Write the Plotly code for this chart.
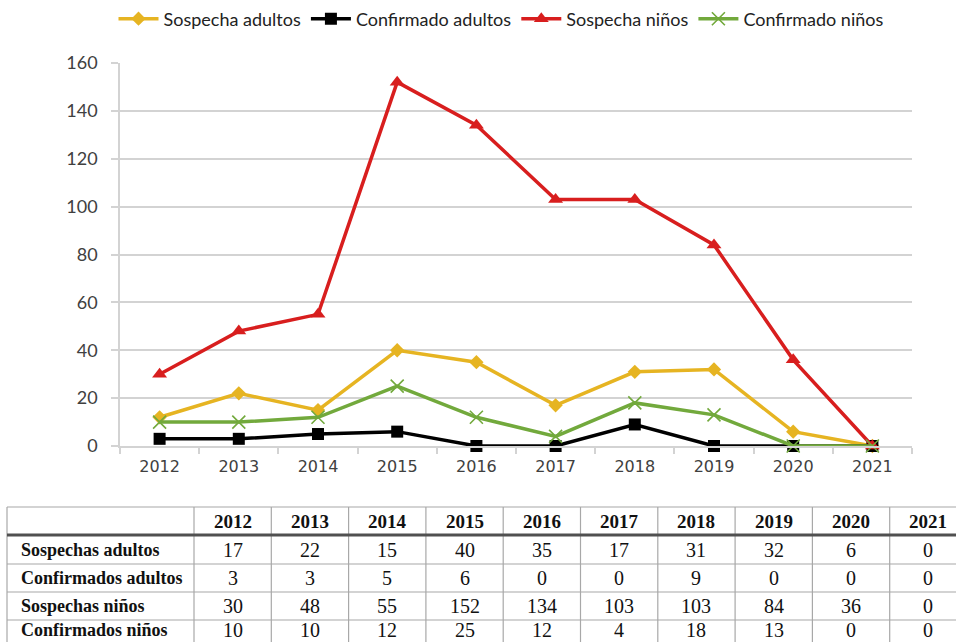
import plotly.graph_objects as go

years = ["2012", "2013", "2014", "2015", "2016", "2017", "2018", "2019", "2020", "2021"]

# values as plotted in the chart
chart_sosp_adultos = [12, 22, 15, 40, 35, 17, 31, 32, 6, 0]
chart_conf_adultos = [3, 3, 5, 6, 0, 0, 9, 0, 0, 0]
chart_sosp_ninos = [30, 48, 55, 152, 134, 103, 103, 84, 36, 0]
chart_conf_ninos = [10, 10, 12, 25, 12, 4, 18, 13, 0, 0]

# values as printed in the table
row_labels = ["Sospechas adultos", "Confirmados adultos", "Sospechas niños", "Confirmados niños"]
tbl_sosp_adultos = [17, 22, 15, 40, 35, 17, 31, 32, 6, 0]
tbl_conf_adultos = [3, 3, 5, 6, 0, 0, 9, 0, 0, 0]
tbl_sosp_ninos = [30, 48, 55, 152, 134, 103, 103, 84, 36, 0]
tbl_conf_ninos = [10, 10, 12, 25, 12, 4, 18, 13, 0, 0]

W, H = 956, 642
YELLOW = "#E6B422"
RED = "#D81E1E"
GREEN = "#72A93C"
BLACK = "#000000"
AXIS_GREY = "#D3D3D3"

fig = go.Figure()

series = [
    ("Sospecha adultos", chart_sosp_adultos, YELLOW, dict(symbol="diamond", size=11, color=YELLOW)),
    ("Confirmado adultos", chart_conf_adultos, BLACK, dict(symbol="square", size=12, color=BLACK)),
    ("Sospecha niños", chart_sosp_ninos, RED, dict(symbol="triangle-up", size=13, color=RED)),
    ("Confirmado niños", chart_conf_ninos, GREEN, dict(symbol="x-thin", size=13, color=GREEN, line=dict(color=GREEN, width=1.6))),
]
for name, vals, col, mk in series:
    fig.add_trace(go.Scatter(
        x=years, y=vals, name=name, mode="lines+markers",
        line=dict(color=col, width=3.5), marker=mk, cliponaxis=False,
    ))

# ---- Table drawn with shapes + annotations (pixel positions -> paper coords)
def px(x):
    return x / W

def py(y):
    return 1 - y / H

col_edges = [7, 194] + [194 + 77.3 * k for k in range(1, 10)] + [967]
row_edges = [507, 535, 564, 592, 620, 648]
TGREY = "#A8A8A8"

shapes = []
for i, y in enumerate(row_edges[:-1]):
    if i == 1:
        continue
    shapes.append(dict(type="line", xref="paper", yref="paper", x0=px(7), x1=1.0,
                       y0=py(y), y1=py(y), line=dict(color=TGREY, width=1.2)))
for x in col_edges[:-1]:
    shapes.append(dict(type="line", xref="paper", yref="paper", x0=px(x), x1=px(x),
                       y0=py(507), y1=0, line=dict(color=TGREY, width=1.2)))
shapes.append(dict(type="line", xref="paper", yref="paper", x0=px(7), x1=1.0,
                   y0=py(535), y1=py(535), line=dict(color="#505050", width=3.2)))

annotations = []
SERIF = "Liberation Serif"
for j, yr in enumerate(years):
    cx = (col_edges[j + 1] + col_edges[j + 2]) / 2
    annotations.append(dict(xref="paper", yref="paper", x=px(cx), y=py(521), text="<b>%s</b>" % yr,
                            showarrow=False, xanchor="center", yanchor="middle",
                            font=dict(family=SERIF, size=19, color="#111111")))
rows = [tbl_sosp_adultos, tbl_conf_adultos, tbl_sosp_ninos, tbl_conf_ninos]
for i, (lab, vals) in enumerate(zip(row_labels, rows)):
    cy = (row_edges[i + 1] + row_edges[i + 2]) / 2
    if i == 3:
        cy = 630
    annotations.append(dict(xref="paper", yref="paper", x=px(19), y=py(cy), text="<b>%s</b>" % lab,
                            showarrow=False, xanchor="left", yanchor="middle",
                            font=dict(family=SERIF, size=18, color="#111111")))
    for j, v in enumerate(vals):
        cx = (col_edges[j + 1] + col_edges[j + 2]) / 2
        annotations.append(dict(xref="paper", yref="paper", x=px(cx), y=py(cy), text=str(v),
                                showarrow=False, xanchor="center", yanchor="middle",
                                font=dict(family=SERIF, size=20, color="#111111")))

fig.update_layout(
    width=W, height=H,
    margin=dict(l=0, r=0, t=0, b=0, autoexpand=False),
    paper_bgcolor="white", plot_bgcolor="white",
    font=dict(family="Lato", color="#404040"),
    showlegend=True,
    legend=dict(orientation="h", xref="container", yref="container",
                x=501 / W, xanchor="center", y=1 - 19 / H, yanchor="middle",
                font=dict(family="Liberation Sans Narrow, Lato", size=18, color="#222222"),
                itemwidth=40, tracegroupgap=0, bgcolor="rgba(0,0,0,0)"),
    xaxis=dict(domain=[120 / W, 912 / W], anchor="y", type="category", automargin=False,
               range=[-0.5, 9.5], showgrid=False, showline=True, linecolor=AXIS_GREY,
               linewidth=1.5, ticks="outside", tickson="boundaries", ticklen=6,
               tickcolor=AXIS_GREY, tickwidth=1.5, ticklabelstandoff=5,
               tickfont=dict(family="DejaVu Sans", size=16, color="#404040"),
               zeroline=False),
    yaxis=dict(domain=[1 - 446 / H, 1 - 63 / H], anchor="x", range=[0, 160], automargin=False,
               tickvals=[0, 20, 40, 60, 80, 100, 120, 140, 160],
               showgrid=True, gridcolor=AXIS_GREY, gridwidth=1.5, zeroline=False,
               showline=True, linecolor=AXIS_GREY, linewidth=1.5,
               ticks="outside", ticklen=7, tickcolor=AXIS_GREY, tickwidth=1.5,
               ticklabelstandoff=10,
               tickfont=dict(family="Lato", size=18, color="#404040")),
    shapes=shapes,
    annotations=annotations,
)

fig.write_html("out.html", config={"displayModeBar": False},
               post_script="document.body.style.margin='0';document.body.style.overflow='hidden';")
